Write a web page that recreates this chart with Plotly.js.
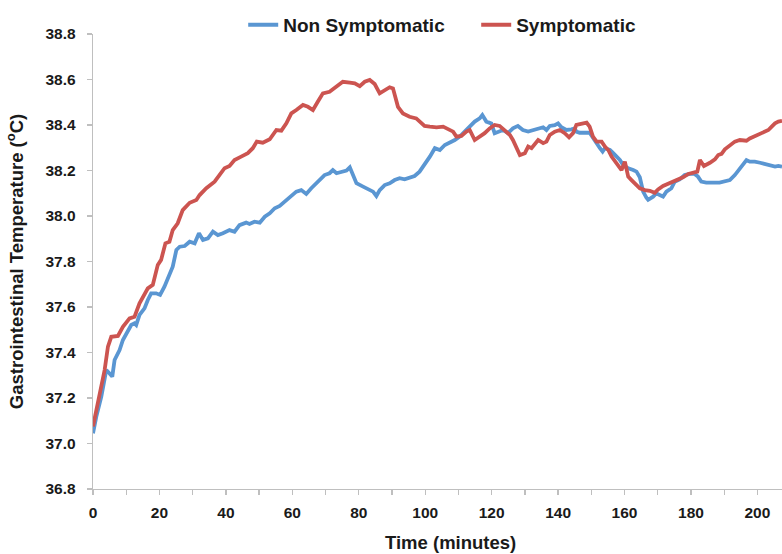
<!DOCTYPE html>
<html>
<head>
<meta charset="utf-8">
<script src="https://cdn.plot.ly/plotly-3.0.1.min.js"></script>
<style>html,body{margin:0;padding:0;background:#fff;overflow:hidden}#chart{width:782px;height:554px}</style>
</head>
<body>
<div id="chart"></div>
<script>
// Non Symptomatic (blue)
var nonSympTime = [0,1.0,2.5,4.0,5.0,5.8,6.5,8.0,9.0,10.5,11.5,12.5,13.0,14.0,15.5,16.5,17.5,19.0,20.2,21.5,23.0,24.0,25.1,26.1,27.6,29.1,30.6,31.9,33.1,34.6,36.1,37.6,39.1,41.1,42.6,44.1,46.1,47.1,48.6,50.2,51.7,53.2,54.7,56.2,57.7,59.2,61.2,62.7,64.2,65.7,67.2,68.2,69.7,71.2,72.2,73.3,74.8,76.3,77.3,78.3,79.3,81.3,83.3,84.3,85.3,86.3,87.8,89.3,90.8,92.3,93.8,95.3,96.8,98.3,99.8,101.4,102.9,104.4,105.9,107.4,108.9,110.4,111.9,113.4,114.9,116.4,117.2,118.4,119.9,120.9,121.9,123.4,124.9,126.4,127.9,129.4,131.0,132.5,134.5,135.5,136.5,137.5,139.0,140.0,141.0,142.5,144.0,145.0,145.5,146.5,149.5,150.5,151.6,152.6,153.4,154.1,155.6,156.6,157.6,158.6,159.6,161.1,162.6,163.6,164.6,165.6,166.6,167.1,168.6,169.6,170.6,171.6,172.6,174.1,175.1,176.6,178.1,179.6,181.1,182.1,183.1,184.6,188.6,190.2,191.7,193.2,194.7,195.7,196.7,197.7,199.2,200.8,202.3,203.8,205.3,206.3,207.4];
var nonSympTemp = [37.045,37.118,37.206,37.323,37.308,37.294,37.367,37.411,37.455,37.499,37.521,37.528,37.521,37.565,37.594,37.631,37.66,37.66,37.653,37.689,37.748,37.777,37.851,37.865,37.868,37.887,37.88,37.924,37.895,37.902,37.931,37.916,37.924,37.938,37.931,37.96,37.971,37.965,37.975,37.971,37.997,38.012,38.034,38.044,38.063,38.081,38.107,38.114,38.097,38.122,38.144,38.155,38.18,38.188,38.202,38.188,38.195,38.2,38.214,38.18,38.144,38.129,38.114,38.107,38.088,38.114,38.136,38.144,38.158,38.166,38.161,38.17,38.176,38.195,38.224,38.261,38.298,38.29,38.312,38.322,38.334,38.349,38.371,38.393,38.415,38.429,38.444,38.415,38.407,38.364,38.371,38.378,38.364,38.385,38.396,38.378,38.371,38.378,38.385,38.39,38.378,38.396,38.399,38.407,38.39,38.378,38.381,38.385,38.371,38.366,38.366,38.341,38.32,38.298,38.283,38.298,38.29,38.276,38.261,38.246,38.224,38.21,38.202,38.195,38.17,38.107,38.08,38.071,38.085,38.1,38.092,38.085,38.107,38.122,38.151,38.161,38.18,38.185,38.185,38.173,38.151,38.147,38.147,38.151,38.158,38.18,38.21,38.224,38.246,38.239,38.239,38.234,38.229,38.22,38.217,38.22,38.217];

// Symptomatic (red)
var sympTime = [0,2.0,3.5,4.5,5.5,7.5,9.0,11.0,12.5,14.0,16.5,18.0,19.5,20.5,21.8,23.0,24.0,25.5,27.0,29.1,31.1,32.1,34.1,36.6,38.1,39.6,41.1,42.6,44.6,46.6,48.1,49.3,51.1,53.2,55.2,56.7,58.2,59.7,61.2,63.2,64.7,66.2,67.7,69.2,71.2,73.3,75.2,77.3,78.8,80.3,81.8,83.3,84.8,86.3,87.8,89.3,90.3,91.8,93.3,95.3,97.3,98.3,99.8,101.4,103.4,105.4,106.9,108.4,109.4,110.9,112.4,113.4,114.9,116.4,117.9,119.4,120.9,122.4,124.0,125.5,126.4,127.5,128.5,130.0,131.0,132.0,133.0,134.0,135.5,136.5,137.5,139.0,140.5,142.0,143.3,144.5,145.5,147.0,148.6,149.5,150.5,151.6,153.1,154.1,155.1,156.1,157.1,158.1,159.1,160.1,161.1,162.1,163.1,164.6,166.1,167.6,169.1,170.1,171.6,173.1,174.6,176.1,177.6,179.2,180.7,181.9,182.7,183.9,185.7,187.2,188.2,189.2,190.2,191.7,193.2,194.7,196.7,197.7,199.2,200.8,202.3,203.3,204.3,205.3,206.3,207.4];
var sympTemp = [37.075,37.206,37.323,37.426,37.469,37.473,37.513,37.55,37.557,37.616,37.682,37.697,37.785,37.807,37.88,37.887,37.938,37.968,38.026,38.058,38.07,38.092,38.122,38.151,38.18,38.21,38.22,38.246,38.261,38.276,38.298,38.327,38.322,38.337,38.378,38.375,38.407,38.451,38.466,38.488,38.48,38.466,38.503,38.539,38.546,38.568,38.59,38.586,38.583,38.571,38.59,38.598,38.58,38.539,38.551,38.566,38.561,38.48,38.451,38.436,38.429,38.415,38.396,38.393,38.39,38.393,38.381,38.371,38.349,38.352,38.371,38.378,38.334,38.349,38.364,38.385,38.4,38.396,38.378,38.356,38.334,38.298,38.268,38.276,38.305,38.298,38.316,38.334,38.32,38.327,38.356,38.371,38.378,38.364,38.346,38.364,38.4,38.404,38.41,38.393,38.349,38.327,38.327,38.305,38.29,38.261,38.239,38.217,38.202,38.239,38.173,38.158,38.144,38.122,38.114,38.111,38.102,38.117,38.132,38.141,38.151,38.158,38.17,38.185,38.19,38.195,38.246,38.22,38.234,38.249,38.268,38.273,38.293,38.308,38.327,38.334,38.331,38.341,38.352,38.364,38.375,38.378,38.393,38.407,38.415,38.418];

var xTickVals = [0,10,20,30,40,50,60,70,80,90,100,110,120,130,140,150,160,170,180,190,200];
var xTickText = ['0','','20','','40','','60','','80','','100','','120','','140','','160','','180','','200'];

var FONT = 'Liberation Sans, Arial, sans-serif';
var traces = [
  {x: nonSympTime, y: nonSympTemp, type: 'scatter', mode: 'lines', name: 'Non Symptomatic',
   line: {color: '#5A96D2', width: 3.8}},
  {x: sympTime, y: sympTemp, type: 'scatter', mode: 'lines', name: 'Symptomatic',
   line: {color: '#CC5450', width: 3.8}}
];
var axisCommon = {
  showgrid: false, zeroline: false, showline: true, linecolor: '#BFBFBF', linewidth: 1.3,
  ticks: 'outside', ticklen: 5, tickcolor: '#BFBFBF', tickwidth: 1.3,
  tickfont: {family: FONT, size: 15.5, color: '#1a1a1a', weight: 'bold'}
};
var layout = {
  width: 782, height: 554,
  margin: {l: 93, r: 0, t: 34, b: 65},
  paper_bgcolor: '#fff', plot_bgcolor: '#fff',
  showlegend: true,
  legend: {orientation: 'h', x: 0.218, xanchor: 'left', y: 1.02, yanchor: 'middle',
           entrywidth: 188, entrywidthmode: 'pixels',
           font: {family: FONT, size: 19, color: '#1a1a1a', weight: 'bold'}, itemwidth: 30, bgcolor: 'rgba(0,0,0,0)'},
  xaxis: Object.assign({}, axisCommon, {
    range: [0, 207.4], tickmode: 'array', tickvals: xTickVals, ticktext: xTickText,
    ticklabelstandoff: 4
  }),
  yaxis: Object.assign({}, axisCommon, {
    range: [36.8, 38.8], tickmode: 'linear', tick0: 36.8, dtick: 0.2, tickformat: '.1f',
    ticklabelstandoff: 8,
    title: {text: 'Gastrointestinal Temperature (<sup>o</sup>C)', standoff: 17,
            font: {family: FONT, size: 18.5, color: '#1a1a1a', weight: 'bold'}}
  }),
  annotations: [{
    text: 'Time (minutes)', xref: 'paper', yref: 'paper', x: 0.519, y: 0, yshift: -53,
    xanchor: 'center', yanchor: 'middle', showarrow: false,
    font: {family: FONT, size: 18.5, color: '#1a1a1a', weight: 'bold'}
  }]
};
Plotly.newPlot('chart', traces, layout, {displayModeBar: false, staticPlot: true});
</script>
</body>
</html>
